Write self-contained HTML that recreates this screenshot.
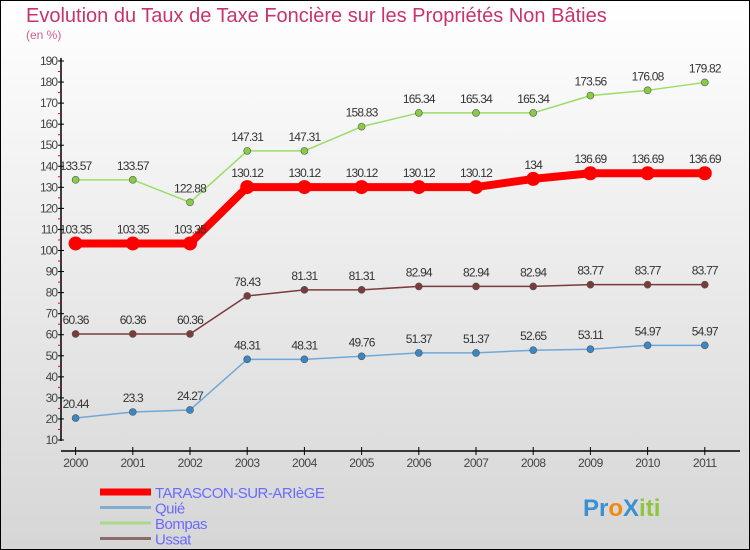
<!DOCTYPE html>
<html><head><meta charset="utf-8"><style>
body{margin:0}
#c{width:750px;height:550px;position:relative;box-sizing:border-box;border:1px solid #000;background:linear-gradient(#fff,#d6d6d6);font-family:"Liberation Sans",sans-serif;overflow:hidden}
</style></head><body>
<div id="c">
<svg id="s" width="750" height="550" style="position:absolute;left:-1px;top:-1px" font-family="Liberation Sans, sans-serif">
<text x="26" y="22" font-size="20" fill="#c8346a">Evolution du Taux de Taxe Foncière sur les Propriétés Non Bâties</text>
<text x="26" y="39" font-size="12" fill="#d0608a">(en %)</text>
</svg>
</div>
<script>
const years=[2000,2001,2002,2003,2004,2005,2006,2007,2008,2009,2010,2011];
const tarascon=[103.35,103.35,103.35,130.12,130.12,130.12,130.12,130.12,134,136.69,136.69,136.69];
const quie=[20.44,23.3,24.27,48.31,48.31,49.76,51.37,51.37,52.65,53.11,54.97,54.97];
const bompas=[133.57,133.57,122.88,147.31,147.31,158.83,165.34,165.34,165.34,173.56,176.08,179.82];
const ussat=[60.36,60.36,60.36,78.43,81.31,81.31,82.94,82.94,82.94,83.77,83.77,83.77];
const yTicks=[10,20,30,40,50,60,70,80,90,100,110,120,130,140,150,160,170,180,190];
const names=["TARASCON-SUR-ARIèGE","Quié","Bompas","Ussat"];
const NS="http://www.w3.org/2000/svg",s=document.getElementById('s');
const X=i=>75.6+i*57.2, Y=v=>440-(v-10)*(379/180);
function el(t,a,p){const e=document.createElementNS(NS,t);for(const k in a)e.setAttribute(k,a[k]);(p||s).appendChild(e);return e;}
const ax=el('line',{x1:61,y1:58,x2:61,y2:441,stroke:'#000','stroke-width':1.5});


yTicks.forEach(v=>{el('line',{x1:58,x2:64,y1:Y(v),y2:Y(v),stroke:'#000'});
 if(v<190)el('line',{x1:58,x2:61,y1:Y(v+5),y2:Y(v+5),stroke:'#e00'});
 const t=el('text',{x:57,y:Y(v)+4,'font-size':12,'text-anchor':'end',fill:'#444','letter-spacing':'-1'});t.textContent=v;
 
 });
const xa=el('line',{x1:61,y1:451,x2:740,y2:451,stroke:'#000','stroke-width':1.5});


years.forEach((y,i)=>{el('line',{x1:X(i),x2:X(i),y1:447,y2:455,stroke:'#000'});
 const t=el('text',{x:X(i),y:467,'font-size':12,'text-anchor':'middle',fill:'#444','letter-spacing':'-0.5'});t.textContent=y;
 
 });
function series(d,col,lw,r,fill,name){
 const g=el('g',{});
 
 
 el('polyline',{points:d.map((v,i)=>X(i)+','+Y(v)).join(' '),fill:'none',stroke:col,'stroke-width':lw,'stroke-linejoin':'round'},g);
 d.forEach((v,i)=>{const c=el('circle',{cx:X(i),cy:Y(v),r:r,fill:fill,stroke:lw>3?'none':'#555','stroke-width':0.6},g);
  
  
  const t=el('text',{x:X(i),y:Y(v)-10,'font-size':12,'text-anchor':'middle',fill:'#333','letter-spacing':'-0.8'},g);t.textContent=v;
  
  });
}
series(ussat,'#7a3b3b',1.5,3.5,'#7a3b3b','series-ussat');
series(bompas,'#99dd66',1.5,3.5,'#88cc44','series-bompas');
series(quie,'#6fa8d8',1.5,3.5,'#3a87c8','series-quie');
series(tarascon,'#f00',8,7,'#f00','series-tarascon');
const lc=['#f00','#80aed0','#a8d88a','#8c6b6b'],lw=[7,3,3,3];
names.forEach((n,i)=>{const y=492+i*15.5;
 const g=el('g',{});
 
 
 el('line',{x1:100,x2:151,y1:y,y2:y,stroke:lc[i],'stroke-width':lw[i]},g);
 const t=el('text',{x:155,y:y+6,'font-size':15,fill:'#6a6aff','letter-spacing':'-0.5'},g);t.textContent=n;});
const lg=el('text',{x:583,y:516,'font-size':24,'font-weight':'bold',fill:'#3a90d0'});
lg.innerHTML='<tspan fill="#3a90d0">Pr</tspan><tspan fill="#f08a10">o</tspan><tspan fill="#3a90d0">X</tspan><tspan fill="#8cc63f">iti</tspan>';


</script>
</body></html>
